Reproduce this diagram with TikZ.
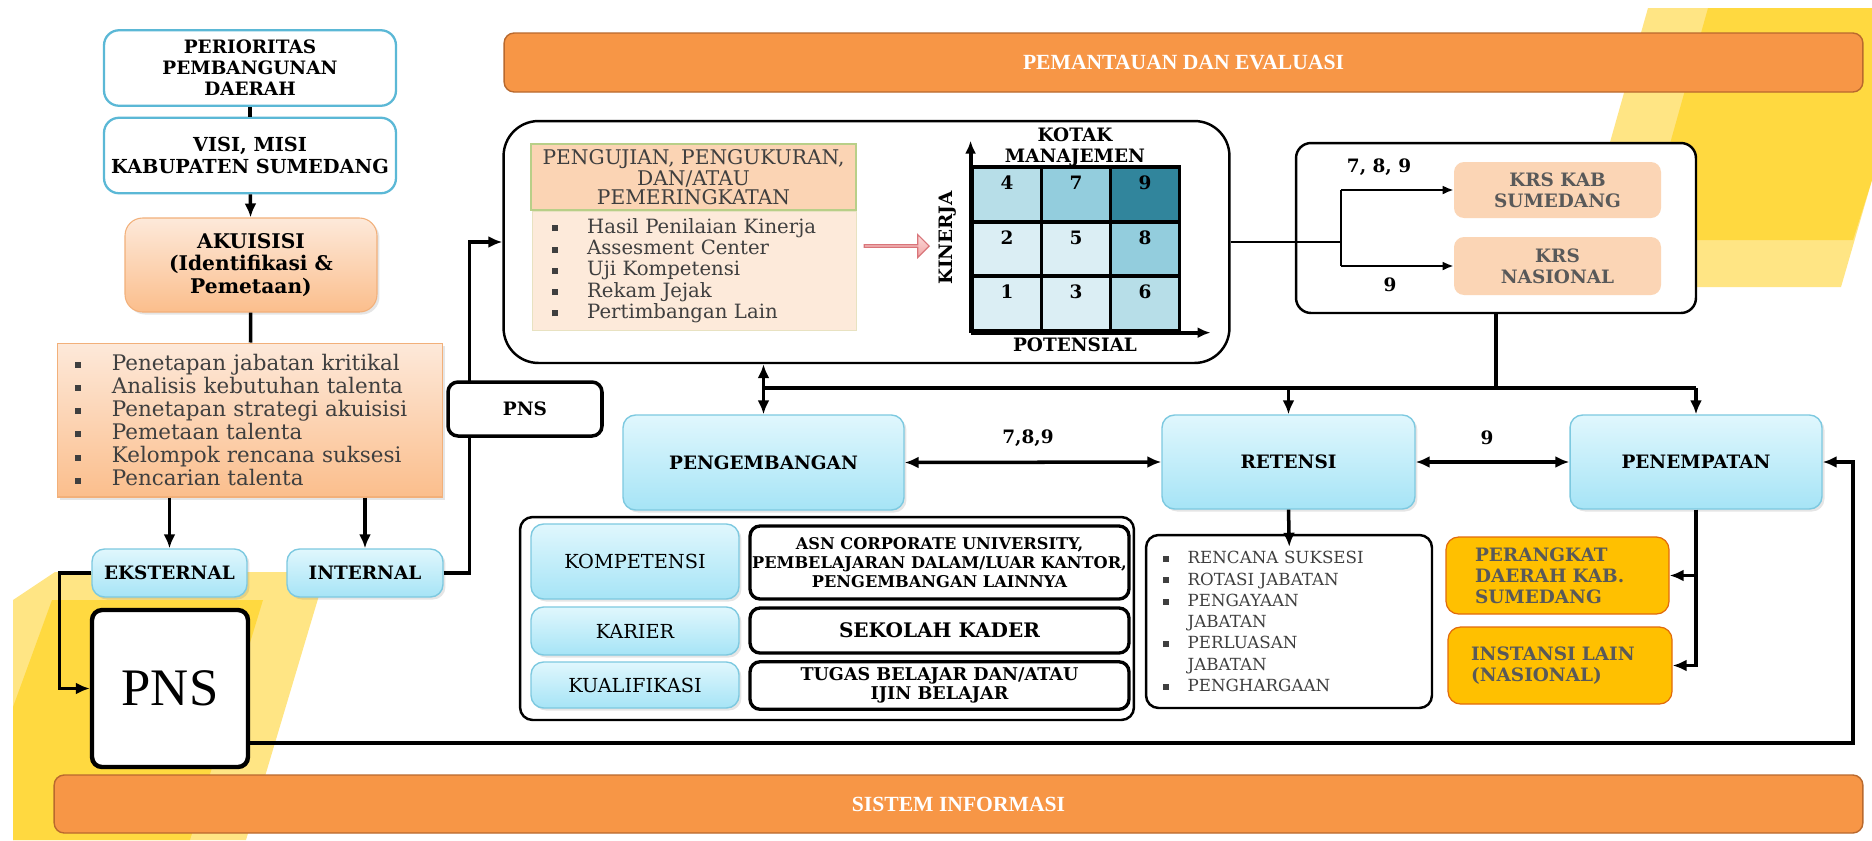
\documentclass[tikz,border=0pt]{standalone}
\usepackage{fontspec}
\setmainfont{DejaVu Serif}
\newfontfamily\timesfont{Liberation Serif}
\usetikzlibrary{arrows.meta,shapes.arrows,shadows,positioning}
\definecolor{evalorange}{HTML}{F79646}
\definecolor{evaledge}{HTML}{B9692E}
\definecolor{skyedge}{HTML}{7DC9E0}
\definecolor{skytop}{HTML}{E0F7FD}
\definecolor{skybottom}{HTML}{A6E4F6}
\definecolor{prioedge}{HTML}{5BB8D6}
\definecolor{peachtop}{HTML}{FDE9DA}
\definecolor{peachbottom}{HTML}{FBBE8C}
\definecolor{peachedge}{HTML}{F2B07A}
\definecolor{headpeach}{HTML}{FBD4B4}
\definecolor{lightpeach}{HTML}{FDEADA}
\definecolor{greenedge}{HTML}{B8CF88}
\definecolor{goldfill}{HTML}{FFC000}
\definecolor{goldedge}{HTML}{E26B0A}
\definecolor{krspeach}{HTML}{FBD5B5}
\definecolor{yellowlight}{HTML}{FFE584}
\definecolor{yellowdark}{HTML}{FFD940}
\definecolor{griddark}{HTML}{31859C}
\definecolor{gridhigh}{HTML}{93CDDD}
\definecolor{gridmid}{HTML}{B7DEE8}
\definecolor{gridlow}{HTML}{DBEEF4}
\definecolor{greytext}{HTML}{595959}
\definecolor{listtext}{HTML}{3F3F3F}
\definecolor{pinktop}{HTML}{FADADA}
\definecolor{pinkbottom}{HTML}{F2A5A5}
\definecolor{pinkedge}{HTML}{D9757A}

\newcommand{\sqitem}[2][21pt]{\makebox[#1][l]{\rule[0.2ex]{3.4pt}{3.4pt}}#2}

\begin{document}
\begin{tikzpicture}[x=0.02cm,y=-0.02cm,
    bar/.style={draw=evaledge, line width=0.8pt, fill=evalorange, rounded corners=0.2cm,
      text=white, font=\timesfont\bfseries\fontsize{12.3}{14}\selectfont},
    label/.style={font=\bfseries\fontsize{10.5}{12}\selectfont, align=center},
    priobox/.style={label, draw=prioedge, line width=1.3pt, fill=white, rounded corners=0.3cm,
      minimum width=5.84cm, minimum height=1.51cm},
    peachbox/.style={label, draw=peachedge, line width=0.6pt, top color=peachtop, bottom color=peachbottom,
      rounded corners=0.35cm, drop shadow={opacity=0.2, shadow xshift=0.05cm, shadow yshift=-0.05cm}},
    peachlist/.style={draw=peachedge, line width=0.6pt, top color=peachtop, bottom color=peachbottom,
      font=\fontsize{12.2}{13.2}\selectfont, text=listtext, align=left, inner xsep=0.36cm,
      text width=7cm, minimum height=3.08cm, drop shadow={opacity=0.2, shadow xshift=0.05cm, shadow yshift=-0.05cm}},
    skybox/.style={label, draw=skyedge, line width=0.8pt, top color=skytop, bottom color=skybottom,
      rounded corners=0.25cm, drop shadow={opacity=0.2, shadow xshift=0.05cm, shadow yshift=-0.05cm}},
    pnsbox/.style={draw=black, line width=2pt, fill=white, rounded corners=0.2cm},
    groupbox/.style={draw=black, line width=1.4pt, fill=white, rounded corners=0.3cm},
    krsbox/.style={label, fill=krspeach, text=greytext, rounded corners=0.2cm, minimum width=4.14cm},
    goldbox/.style={label, draw=goldedge, line width=0.7pt, fill=goldfill, text=greytext,
      rounded corners=0.25cm, align=left, minimum height=1.54cm},
    whitebox/.style={label, draw=black, line width=1.9pt, fill=white, rounded corners=0.2cm,
      minimum width=7.58cm},
    cellbox/.style={draw=black, line width=2.2pt, minimum width=1.38cm, minimum height=1.09cm, inner sep=0pt},
    line/.style={line width=2pt},
    thinline/.style={line width=1.3pt},
    arr/.style={line width=2pt, -{Latex[length=0.28cm,width=0.24cm]}},
    thinarr/.style={line width=1.3pt, -{Latex[length=0.22cm,width=0.18cm]}},
    twoarr/.style={line width=2pt, {Latex[length=0.28cm,width=0.24cm]}-{Latex[length=0.28cm,width=0.24cm]}}]

\useasboundingbox (0,0) rectangle (1872,840);
\fill[white] (0,0) rectangle (1872,840);

% background shapes
\fill[yellowlight] (1648,8) -- (1872,8) -- (1872,180) -- (1841,287) -- (1569,287) -- cycle;
\fill[yellowdark] (1708,8) -- (1872,8) -- (1872,180) -- (1853,240) -- (1643,240) -- cycle;
\fill[yellowlight] (55,572) -- (326,572) -- (246,840) -- (13,840) -- (13,600) -- cycle;
\fill[yellowdark] (52,600) -- (263,600) -- (190,840) -- (13,840) -- (13,707) -- cycle;

\node[bar, minimum width=27.18cm, minimum height=1.18cm] (evalbar) at (1183.5,62.5) {PEMANTAUAN DAN EVALUASI};
\node[bar, minimum width=36.18cm, minimum height=1.16cm] (infobar) at (958.5,804) {SISTEM INFORMASI};

% acquisition column
\node[priobox] (prio) at (250,68) {PERIORITAS\\PEMBANGUNAN\\DAERAH};
\node[priobox, font=\bfseries\fontsize{11}{12.5}\selectfont] (visi) at (250,155.5) {VISI, MISI\\KABUPATEN SUMEDANG};
\node[peachbox, font=\bfseries\fontsize{11.5}{12.6}\selectfont, minimum width=5.04cm, minimum height=1.88cm] (akuisisi) at (251,265)
  {AKUISISI\\(Identifikasi \&\\Pemetaan)};
\node[peachlist] (akulist) at (250,420) {\sqitem{Penetapan jabatan kritikal}\\
  \sqitem{Analisis kebutuhan talenta}\\
  \sqitem{Penetapan strategi akuisisi}\\
  \sqitem{Pemetaan talenta}\\
  \sqitem{Kelompok rencana suksesi}\\
  \sqitem{Pencarian talenta}};
\node[skybox, minimum width=3.1cm, minimum height=0.96cm] (eks) at (169.5,573) {EKSTERNAL};
\node[skybox, minimum width=3.12cm, minimum height=0.96cm] (int) at (365,573) {INTERNAL};
\node[pnsbox, line width=2.5pt, minimum width=3.12cm, minimum height=3.14cm, font=\timesfont\fontsize{30}{34}\selectfont] (pnsbig) at (170,688.5) {PNS};

\draw[line] (prio) -- (visi);
\draw[arr] (visi) -- (akuisisi);
\draw[line] (akuisisi) -- (akulist);
\draw[arr] (akulist.south -| eks.north) -- (eks.north);
\draw[arr] (akulist.south -| int.north) -- (int.north);
\draw[arr] (eks.west) -- ++(-32,0) |- (pnsbig.west);

% testing and the 9 box grid
\node[groupbox, rounded corners=0.7cm, minimum width=14.52cm, minimum height=4.84cm] (ujibox) at (866.5,242) {};
\node[draw=greenedge, line width=0.8pt, fill=headpeach, text=listtext, align=center,
  font=\fontsize{11.5}{9.6}\selectfont, minimum width=6.5cm, minimum height=1.28cm] (ujihead) at (693.5,177)
  {PENGUJIAN, PENGUKURAN,\\DAN/ATAU\\PEMERINGKATAN};
\node[draw=lightpeach!70!greenedge, line width=0.5pt, fill=lightpeach, text=listtext, align=left,
  font=\fontsize{11.2}{12.1}\selectfont, text width=5.68cm, inner xsep=0.4cm, minimum height=2.38cm] (ujilist) at (694,270.5)
  {\sqitem[20pt]{Hasil Penilaian Kinerja}\\
   \sqitem[20pt]{Assesment Center}\\
   \sqitem[20pt]{Uji Kompetensi}\\
   \sqitem[20pt]{Rekam Jejak}\\
   \sqitem[20pt]{Pertimbangan Lain}};
\node[single arrow, draw=pinkedge, line width=0.7pt, top color=pinktop, bottom color=pinkbottom,
  minimum height=1.3cm, minimum width=0.46cm, single arrow head extend=0.1cm, inner sep=0pt] (pinkarrow) at (896,246) {};

\foreach \num/\cx/\cy/\shade in {4/1007/194.5/gridmid, 7/1076/194.5/gridhigh, 9/1145/194.5/griddark,
    2/1007/249.5/gridlow, 5/1076/249.5/gridlow, 8/1145/249.5/gridhigh,
    1/1007/303.5/gridlow, 3/1076/303.5/gridlow, 6/1145/303.5/gridmid}{
  \node[cellbox, fill=\shade] (cell\num) at (\cx,\cy) {};
  \node[label, inner sep=0pt, below=0.2cm of cell\num.north] (num\num) {\num};
}
\draw[line width=2.2pt, -{Latex[length=0.26cm,width=0.22cm]}] (cell1.south west) -- ++(0,-192);
\draw[line width=2.2pt, -{Latex[length=0.26cm,width=0.22cm]}] (cell1.south west) -- ++(240,0);
\node[label, rotate=90] (kinerja) at (948,238) {KINERJA};
\node[label] (kotak) at (1075,147.5) {KOTAK\\MANAJEMEN};
\node[label] (potensial) at (1075,345) {POTENSIAL};

% succession plans
\node[groupbox, minimum width=8cm, minimum height=3.4cm] (krsgroup) at (1496,228) {};
\node[krsbox, minimum height=1.12cm] (krskab) at (1557.5,190) {KRS KAB\\SUMEDANG};
\node[krsbox, minimum height=1.16cm] (krsnas) at (1557.5,266) {KRS\\NASIONAL};
\coordinate (krsfork) at (1341,242);
\draw[thinline] (ujibox.east) -- (krsfork);
\draw[thinline] (krsfork |- krskab.west) -- (krsfork |- krsnas.west);
\draw[thinarr] (krsfork |- krskab.west) -- (krskab.west);
\draw[thinarr] (krsfork |- krsnas.west) -- (krsnas.west);
\node[label] (krstoplab) at (1379,167) {7, 8, 9};
\node[label] (krsbotlab) at (1390,285) {9};

% development, retention, placement
\node[skybox, minimum width=5.62cm, minimum height=1.9cm] (kembang) at (763.5,462.5) {PENGEMBANGAN};
\node[skybox, minimum width=5.06cm, minimum height=1.88cm] (retensi) at (1288.5,462) {RETENSI};
\node[skybox, minimum width=5.04cm, minimum height=1.88cm] (penempatan) at (1696,462) {PENEMPATAN};

\coordinate (busy) at (0,388);
\draw[line] (krsgroup.south) -- (krsgroup.south |- busy);
\draw[line] (kembang.north |- busy) -- (penempatan.north |- busy);
\draw[twoarr] (kembang.north |- ujibox.south) -- (kembang.north);
\draw[arr] (retensi.north |- busy) -- (retensi.north);
\draw[arr] (penempatan.north |- busy) -- (penempatan.north);
\draw[twoarr] (kembang.east) -- (retensi.west);
\draw[twoarr] (retensi.east) -- (penempatan.west);
\node[label] (kembanglab) at (1028,438) {7,8,9};
\node[label] (retensilab) at (1487,438) {9};

\node[groupbox, rounded corners=0.25cm, minimum width=12.28cm, minimum height=4.06cm] (kembanggroup) at (827,618.5) {};
\node[skybox, font=\fontsize{11}{12}\selectfont, minimum width=4.16cm, minimum height=1.5cm] (kompetensi) at (635,561.5) {KOMPETENSI};
\node[skybox, font=\fontsize{11}{12}\selectfont, minimum width=4.16cm, minimum height=0.96cm] (karier) at (635,631) {KARIER};
\node[skybox, font=\fontsize{11}{12}\selectfont, minimum width=4.16cm, minimum height=0.92cm] (kualifikasi) at (635,685) {KUALIFIKASI};
\node[whitebox, font=\bfseries\fontsize{9.2}{10.8}\selectfont, minimum height=1.46cm, inner xsep=0pt] (asn) at (939.5,562.5)
  {ASN CORPORATE UNIVERSITY,\\PEMBELAJARAN DALAM/LUAR KANTOR,\\PENGEMBANGAN LAINNYA};
\node[whitebox, font=\bfseries\fontsize{11.4}{12}\selectfont, minimum height=0.9cm] (sekolah) at (939.5,630.5) {SEKOLAH KADER};
\node[whitebox, font=\bfseries\fontsize{10}{11}\selectfont, minimum height=0.95cm, inner ysep=0pt] (tugas) at (939.5,685.5) {TUGAS BELAJAR DAN/ATAU\\IJIN BELAJAR};

\node[groupbox, rounded corners=0.25cm, text=listtext, align=left, font=\fontsize{9.5}{12.1}\selectfont,
  text width=5.04cm, inner xsep=0.34cm, minimum height=3.46cm] (retlist) at (1289,621.5)
  {\sqitem[14pt]{RENCANA SUKSESI}\\
   \sqitem[14pt]{ROTASI JABATAN}\\
   \sqitem[14pt]{PENGAYAAN}\\
   \hspace*{14pt}JABATAN\\
   \sqitem[14pt]{PERLUASAN}\\
   \hspace*{14pt}JABATAN\\
   \sqitem[14pt]{PENGHARGAAN}};
\draw[arr, shorten >=-0.26cm] (retensi.south) -- (retlist.north);

\node[goldbox, text width=3.3cm, inner xsep=0.58cm] (perangkat) at (1557.5,575.5) {PERANGKAT\\DAERAH KAB.\\SUMEDANG};
\node[goldbox, text width=3.56cm, inner xsep=0.46cm] (instansi) at (1560,665.5) {INSTANSI LAIN\\(NASIONAL)};
\draw[arr] (penempatan.south) |- (instansi.east);
\draw[arr] (penempatan.south |- perangkat.east) -- (perangkat.east);

% flows back from PNS
\coordinate (fbcorner) at (1853,743);
\draw[arr] (pnsbig.east |- fbcorner) -- (fbcorner) |- (penempatan.east);
\draw[arr] (int.east) -- ++(26,0) |- (ujibox.west);
\node[pnsbox, label, minimum width=3.08cm, minimum height=1.08cm] (pnssmall) at (525,409) {PNS};
\end{tikzpicture}
\end{document}
